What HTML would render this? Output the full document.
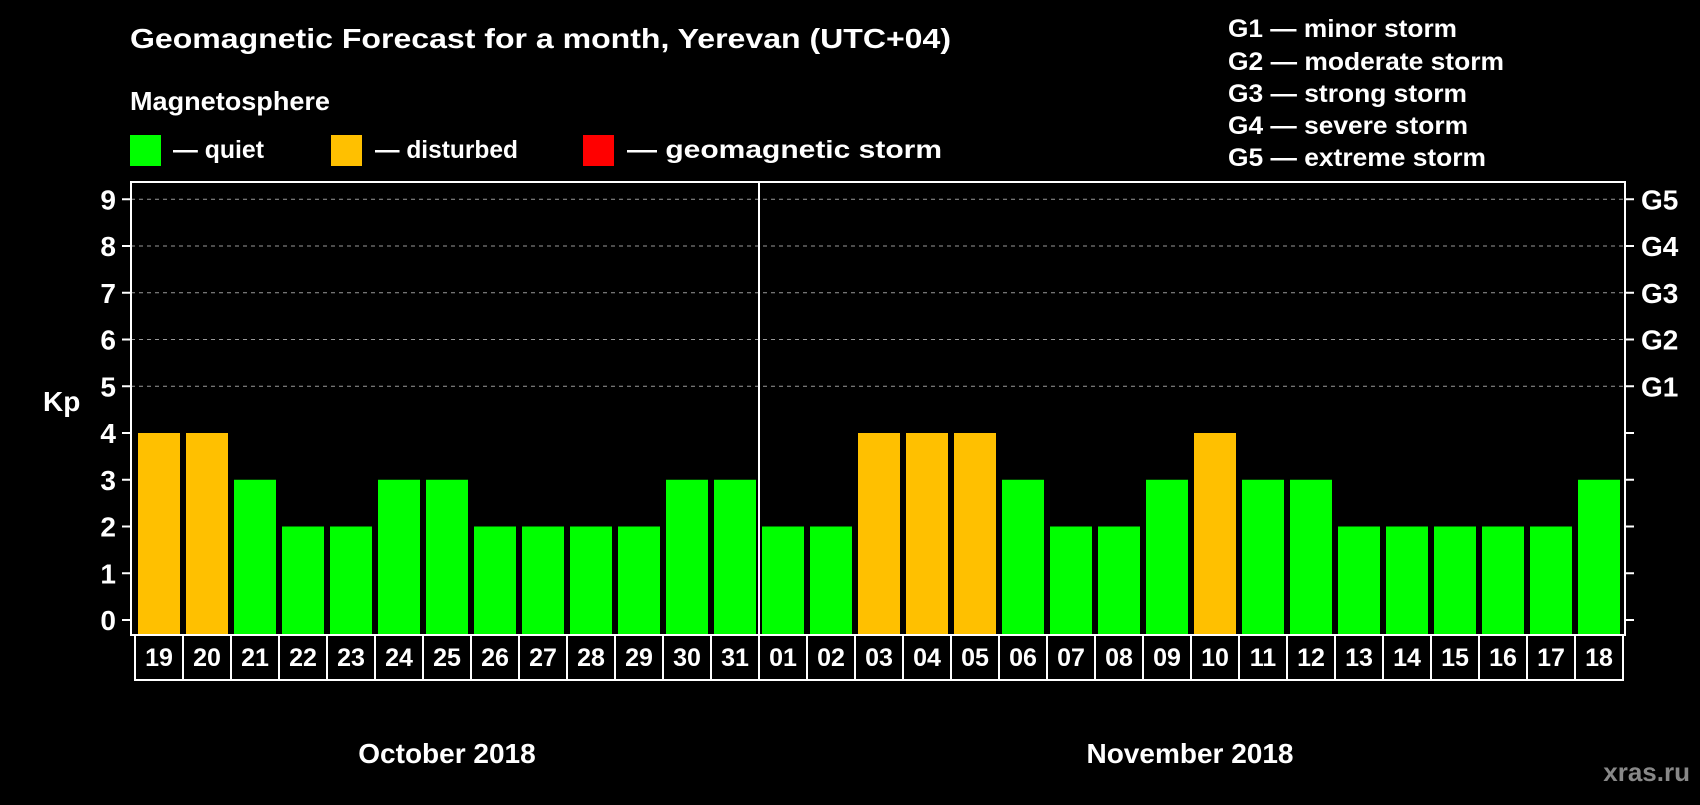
<!DOCTYPE html>
<html><head><meta charset="utf-8"><style>
html,body{margin:0;padding:0;background:#000;}
svg text{font-family:"Liberation Sans",Arial,sans-serif;font-weight:bold;fill:#fff;}
</style></head><body>
<svg id="chart" width="1700" height="800" xmlns="http://www.w3.org/2000/svg">
<rect width="1700" height="800" fill="#000"/>
<text x="130" y="48" font-size="28" textLength="821" lengthAdjust="spacingAndGlyphs">Geomagnetic Forecast for a month, Yerevan (UTC+04)</text>
<text x="130" y="110" font-size="26" textLength="200" lengthAdjust="spacingAndGlyphs">Magnetosphere</text>
<rect x="130" y="135" width="31" height="31" fill="#00ff00"/>
<text x="173" y="158" font-size="25" textLength="91" lengthAdjust="spacingAndGlyphs">— quiet</text>
<rect x="331" y="135" width="31" height="31" fill="#ffc000"/>
<text x="375" y="158" font-size="25" textLength="143" lengthAdjust="spacingAndGlyphs">— disturbed</text>
<rect x="583" y="135" width="31" height="31" fill="#ff0000"/>
<text x="627" y="158" font-size="25" textLength="315" lengthAdjust="spacingAndGlyphs">— geomagnetic storm</text>
<g font-size="25">
<text x="1228" y="37" textLength="229" lengthAdjust="spacingAndGlyphs">G1 — minor storm</text>
<text x="1228" y="70" textLength="276" lengthAdjust="spacingAndGlyphs">G2 — moderate storm</text>
<text x="1228" y="102" textLength="239" lengthAdjust="spacingAndGlyphs">G3 — strong storm</text>
<text x="1228" y="134" textLength="240" lengthAdjust="spacingAndGlyphs">G4 — severe storm</text>
<text x="1228" y="166" textLength="258" lengthAdjust="spacingAndGlyphs">G5 — extreme storm</text>
</g>
<text x="43" y="411" font-size="28">Kp</text>
<text x="447" y="763" font-size="28" text-anchor="middle">October 2018</text>
<text x="1190" y="763" font-size="28" text-anchor="middle">November 2018</text>
<text x="1690" y="781" font-size="26" text-anchor="end" style="fill:#888">xras.ru</text>
<g id="plot"></g>
</svg>
<script>
const days = ["19","20","21","22","23","24","25","26","27","28","29","30","31","01","02","03","04","05","06","07","08","09","10","11","12","13","14","15","16","17","18"];
const kp = [4,4,3,2,2,3,3,2,2,2,2,3,3,2,2,4,4,4,3,2,2,3,4,3,3,2,2,2,2,2,3];
const yTicks = ["0","1","2","3","4","5","6","7","8","9"];
const gLabels = ["G1","G2","G3","G4","G5"];
const NS="http://www.w3.org/2000/svg";
const g=document.getElementById('plot');
const L=131,R=1625,T=182,B=635,slot0=135,slotW=48;
const y=v=>620-v*46.75;
const x=i=>slot0+i*slotW;
function mk(t,a){const e=document.createElementNS(NS,t);for(const k in a)e.setAttribute(k,a[k]);g.appendChild(e);return e;}
for(let v=5;v<=9;v++){const e=mk('line',{x1:L,x2:R,y1:y(v),y2:y(v),stroke:'#999','stroke-dasharray':'4,4','stroke-width':1});

}
kp.forEach((v,i)=>{const e=mk('rect',{x:x(i)+3,y:y(v),width:42,height:635-y(v),fill:v>=5?'#ff0000':v>=4?'#ffc000':'#00ff00'});

});
const fr=mk('rect',{x:L,y:T,width:R-L,height:B-T,fill:'none',stroke:'#fff','stroke-width':2});


const dv=mk('line',{x1:x(13),x2:x(13),y1:T,y2:680,stroke:'#fff','stroke-width':2});


yTicks.forEach((t,i)=>{const v=+t;
mk('line',{x1:122,x2:L,y1:y(v),y2:y(v),stroke:'#fff','stroke-width':2});
mk('line',{x1:R,x2:1634,y1:y(v),y2:y(v),stroke:'#fff','stroke-width':2});
const e=mk('text',{x:116,y:y(v)+10,'font-size':28,'text-anchor':'end'});e.textContent=t;

});
gLabels.forEach((t,i)=>{const e=mk('text',{x:1641,y:y(5+i)+10,'font-size':28});e.textContent=t;

});
days.forEach((d,i)=>{const r=mk('rect',{x:x(i),y:B,width:slotW,height:45,fill:'none',stroke:'#fff','stroke-width':2});


const e=mk('text',{x:x(i)+slotW/2,y:666,'font-size':25,'text-anchor':'middle'});e.textContent=d;

});
</script>
</body></html>
